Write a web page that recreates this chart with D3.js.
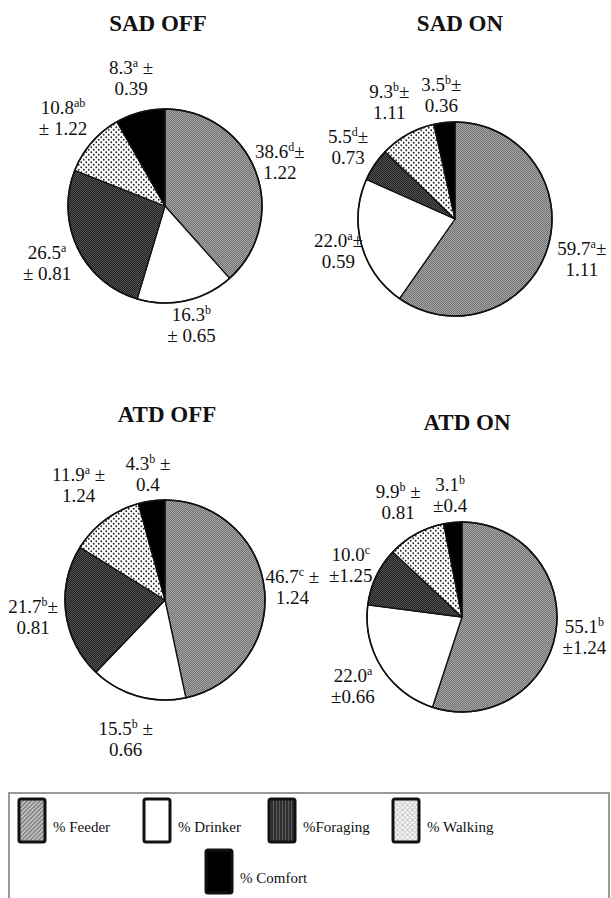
<!DOCTYPE html>
<html>
<head>
<meta charset="utf-8">
<script src="https://cdn.jsdelivr.net/npm/d3@7"></script>
<style>
  html, body { margin: 0; padding: 0; background: #fff; }
  svg { display: block; }
  text { font-family: "Liberation Serif", "Times New Roman", serif; fill: #111; }
</style>
</head>
<body>
<svg id="chart" width="611" height="898"></svg>
<script>
// ---------------- DATA ----------------
const categories = ["% Feeder", "% Drinker", "%Foraging", "% Walking", "% Comfort"];
const panelTitles = ["SAD OFF", "SAD ON", "ATD OFF", "ATD ON"];

const sadOffValues = [38.6, 16.3, 26.5, 10.8, 8.3];
const sadOnValues  = [59.7, 22.0, 5.5, 9.3, 3.5];
const atdOffValues = [46.7, 15.5, 21.7, 11.9, 4.3];
const atdOnValues  = [55.1, 22.0, 10.0, 9.9, 3.1];

const sadOffLetters = ["d", "b", "a", "ab", "a"];
const sadOnLetters  = ["a", "a", "d", "b", "b"];
const atdOffLetters = ["c", "b", "b", "a", "b"];
const atdOnLetters  = ["b", "a", "c", "b", "b"];

const sadOffErrors = ["1.22", "0.65", "0.81", "1.22", "0.39"];
const sadOnErrors  = ["1.11", "0.59", "0.73", "1.11", "0.36"];
const atdOffErrors = ["1.24", "0.66", "0.81", "1.24", "0.4"];
const atdOnErrors  = ["1.24", "0.66", "1.25", "0.81", "0.4"];

// where the "±" sign is written: suffix of line 1 / prefix of line 2
const sadOffPm1 = ["±", "", "", "", " ±"];
const sadOffPm2 = ["", "± ", "± ", "± ", ""];
const sadOnPm1  = ["±", "±", "±", "±", "±"];
const sadOnPm2  = ["", "", "", "", ""];
const atdOffPm1 = [" ±", " ±", "±", " ±", " ±"];
const atdOffPm2 = ["", "", "", "", ""];
const atdOnPm1  = ["", "", "", " ±", ""];
const atdOnPm2  = ["±", "±", "±", "", "±"];

// ---------------- LAYOUT ----------------
const panels = [
  { title: panelTitles[0], values: sadOffValues, letters: sadOffLetters, errors: sadOffErrors, pm1: sadOffPm1, pm2: sadOffPm2,
    cx: 165, cy: 206, r: 97, tx: 158, ty: 31, gaps: [26, 25, 34, 38, 35] },
  { title: panelTitles[1], values: sadOnValues, letters: sadOnLetters, errors: sadOnErrors, pm1: sadOnPm1, pm2: sadOnPm2,
    cx: 455, cy: 219, r: 97, tx: 460, ty: 31, gaps: [36, 24, 32, 37, 28] },
  { title: panelTitles[2], values: atdOffValues, letters: atdOffLetters, errors: atdOffErrors, pm1: atdOffPm1, pm2: atdOffPm2,
    cx: 165, cy: 600, r: 100, tx: 167, ty: 422, gaps: [28, 44, 33, 44, 27] },
  { title: panelTitles[3], values: atdOnValues, letters: atdOnLetters, errors: atdOnErrors, pm1: atdOnPm1, pm2: atdOnPm2,
    cx: 462, cy: 617, r: 95, tx: 467, ty: 430, gaps: [29, 34, 28, 37, 28] }
];

const svg = d3.select("#chart");
const defs = svg.append("defs");

// ---- pie fill patterns ----
function checker(id, c1, c2) {
  const p = defs.append("pattern").attr("id", id).attr("patternUnits", "userSpaceOnUse")
    .attr("width", 2).attr("height", 2);
  p.append("rect").attr("width", 2).attr("height", 2).attr("fill", c1);
  p.append("rect").attr("x", 0).attr("y", 0).attr("width", 1).attr("height", 1).attr("fill", c2);
  p.append("rect").attr("x", 1).attr("y", 1).attr("width", 1).attr("height", 1).attr("fill", c2);
}
checker("pFeeder", "#a8a8a8", "#707070");
checker("pForaging", "#565656", "#1e1e1e");
(function () {
  const p = defs.append("pattern").attr("id", "pWalking").attr("patternUnits", "userSpaceOnUse")
    .attr("width", 5).attr("height", 5);
  p.append("rect").attr("width", 5).attr("height", 5).attr("fill", "#fff");
  p.append("circle").attr("cx", 1.25).attr("cy", 1.25).attr("r", 0.9).attr("fill", "#222");
  p.append("circle").attr("cx", 3.75).attr("cy", 3.75).attr("r", 0.9).attr("fill", "#222");
})();

// ---- legend patterns ----
(function () {
  const p = defs.append("pattern").attr("id", "lFeeder").attr("patternUnits", "userSpaceOnUse")
    .attr("width", 3).attr("height", 3).attr("patternTransform", "rotate(45)");
  p.append("rect").attr("width", 3).attr("height", 3).attr("fill", "#bdbdbd");
  p.append("rect").attr("width", 1).attr("height", 3).attr("fill", "#707070");
  const q = defs.append("pattern").attr("id", "lForaging").attr("patternUnits", "userSpaceOnUse")
    .attr("width", 3).attr("height", 3);
  q.append("rect").attr("width", 3).attr("height", 3).attr("fill", "#2e2e2e");
  q.append("rect").attr("width", 1).attr("height", 3).attr("fill", "#5a5a5a");
  const w = defs.append("pattern").attr("id", "lWalking").attr("patternUnits", "userSpaceOnUse")
    .attr("width", 5).attr("height", 5);
  w.append("rect").attr("width", 5).attr("height", 5).attr("fill", "#f4f4f4");
  w.append("path").attr("d", "M0,2.5 L2.5,0 L5,2.5 L2.5,5 Z").attr("fill", "none").attr("stroke", "#a8a8a8").attr("stroke-width", 0.7);
})();

const pieFills = d3.scaleOrdinal().domain(categories)
  .range(["url(#pFeeder)", "#ffffff", "url(#pForaging)", "url(#pWalking)", "#000000"]);
const legendFills = d3.scaleOrdinal().domain(categories)
  .range(["url(#lFeeder)", "#ffffff", "url(#lForaging)", "url(#lWalking)", "#000000"]);

const pie = d3.pie().sort(null).value(d => d.value);

panels.forEach(P => {
  const g = svg.append("g").attr("transform", `translate(${P.cx},${P.cy})`);
  const rows = categories.map((c, i) => ({ cat: c, value: P.values[i], i }));
  const arcs = pie(rows);
  const arc = d3.arc().innerRadius(0).outerRadius(P.r);

  g.selectAll("path.slice").data(arcs).join("path")
    .attr("class", "slice")
    .attr("d", arc)
    .attr("fill", d => pieFills(d.data.cat))
    .attr("stroke", "#111")
    .attr("stroke-width", 1.3)
    .attr("stroke-linejoin", "round");

  g.append("circle").attr("r", P.r).attr("fill", "none").attr("stroke", "#111").attr("stroke-width", 1.6);

  // labels
  arcs.forEach(d => {
    const i = d.data.i;
    const R = P.r + P.gaps[i];
    const la = d3.arc().innerRadius(R).outerRadius(R);
    const [lx, ly] = la.centroid(d);
    const t = g.append("text").attr("text-anchor", "middle").attr("font-size", 19)
      .attr("x", lx).attr("y", ly - 4);
    t.append("tspan").text(d3.format(".1f")(d.data.value));
    t.append("tspan").attr("font-size", 12).attr("dy", -7).text(P.letters[i]);
    t.append("tspan").attr("dy", 7).text(P.pm1[i]);
    g.append("text").attr("text-anchor", "middle").attr("font-size", 19)
      .attr("x", lx).attr("y", ly + 17)
      .text(P.pm2[i] + P.errors[i]);
  });

  svg.append("text").attr("x", P.tx).attr("y", P.ty).attr("text-anchor", "middle")
    .attr("font-size", 23).attr("font-weight", "bold").text(P.title);
});

// ---------------- LEGEND ----------------
svg.append("rect").attr("x", 9).attr("y", 793).attr("width", 600).attr("height", 130)
  .attr("fill", "#fff").attr("stroke", "#9a9a9a").attr("stroke-width", 2);

const legendPos = [[18, 798], [143, 798], [268, 798], [392, 798], [205, 849]];
const lg = svg.append("g");
categories.forEach((c, i) => {
  const [x, y] = legendPos[i];
  lg.append("rect").attr("x", x + 1).attr("y", y + 1).attr("width", 26).attr("height", 43)
    .attr("rx", 2).attr("fill", legendFills(c)).attr("stroke", "#111").attr("stroke-width", 3);
  lg.append("text").attr("x", x + 35).attr("y", y + 34).attr("font-size", 15).text(c);
});
</script>
</body>
</html>
